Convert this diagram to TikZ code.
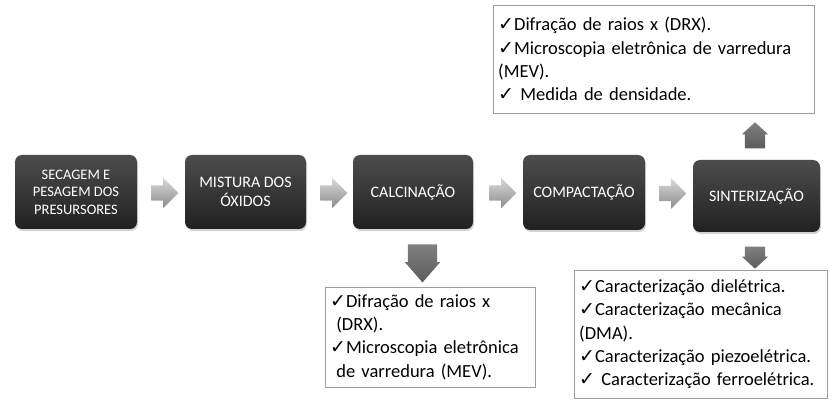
\documentclass[tikz,border=0pt]{standalone}
\usepackage{fontspec}
\setmainfont{Carlito}
\newfontfamily\symf{DejaVu Sans}
\usetikzlibrary{shapes.arrows,shadows}
\colorlet{bxt}{black!70}
\colorlet{bxb}{black!87}
\colorlet{arl}{black!15}
\colorlet{ard}{black!58}
\colorlet{lbr}{black!38}
\newcommand{\chk}{{\symf\fontsize{19}{19}\selectfont ✓}}

\begin{document}
\begin{tikzpicture}[x=1pt,y=-1pt,
    etapa/.style={rounded corners=7pt, top color=bxt, bottom color=bxb,
        text=white, align=center, font=\fontsize{16}{19}\selectfont,
        minimum height=74pt,
        drop shadow={opacity=0.35,shadow xshift=1pt,shadow yshift=-2pt}},
    lista/.style={draw=lbr, fill=white, align=left, inner sep=5pt,
        font=\fontsize{18.5}{23.3}\selectfont},
    seta/.style={single arrow, minimum height=27pt, inner xsep=0pt,
        inner ysep=7.5pt, single arrow head extend=7.5pt,
        top color=arl, bottom color=black!45},
    setab/.style={single arrow, inner xsep=0pt, single arrow head extend=3pt,
        top color=black!50, bottom color=black!64}
]
    \useasboundingbox (0,0) rectangle (839,409);
    % etapas
    \node[etapa, minimum width=122pt, font=\fontsize{14.5}{17.5}\selectfont] (sec) at (76,192)
        {SECAGEM E\\PESAGEM DOS\\PRESURSORES};
    \node[etapa, minimum width=121pt] (mis) at (245.5,192) {MISTURA DOS\\ÓXIDOS};
    \node[etapa, minimum width=120pt] (cal) at (413,192) {CALCINAÇÃO};
    \node[etapa, minimum width=122pt, minimum height=75pt] (com) at (584,192.5) {COMPACTAÇÃO};
    \node[etapa, minimum width=127pt, minimum height=72pt] (sin) at (756.5,196) {SINTERIZAÇÃO};
    % setas entre etapas
    \node[seta] (s1) at (161,193) {};
    \node[seta] (s2) at (330,193) {};
    \node[seta] (s3) at (499,193) {};
    \node[seta] (s4) at (669,193.5) {};
    % setas para as caracterizacoes
    \node[setab, rotate=-90, minimum height=38pt, inner ysep=14.5pt,
        single arrow tip angle=82] (d1) at (422.5,255) {};
    \node[setab, rotate=-90, minimum height=22pt, inner ysep=10pt,
        single arrow tip angle=95] (d2) at (755,253) {};
    \node[setab, rotate=90, minimum height=26pt, inner ysep=10pt,
        single arrow tip angle=95] (u1) at (755,140) {};
    % caracterizacoes
    \node[lista, anchor=north west, text width=311pt, minimum height=108pt] (lsup) at (493,5)
        {\chk Difração de raios x (DRX).\\
         \chk Microscopia eletrônica de varredura\\
         (MEV).\\
         \chk\ Medida de densidade.};
    \node[lista, anchor=north west, text width=200pt, minimum height=100pt] (lcal) at (325,287)
        {\chk Difração de raios x\\
         \ (DRX).\\
         \chk Microscopia eletrônica\\
         \ de varredura (MEV).};
    \node[lista, anchor=north west, text width=243pt, minimum height=128pt] (linf) at (574,270)
        {\chk Caracterização dielétrica.\\
         \chk Caracterização mecânica\\
         (DMA).\\
         \chk Caracterização piezoelétrica.\\
         \chk\ Caracterização ferroelétrica.};
\end{tikzpicture}
\end{document}
